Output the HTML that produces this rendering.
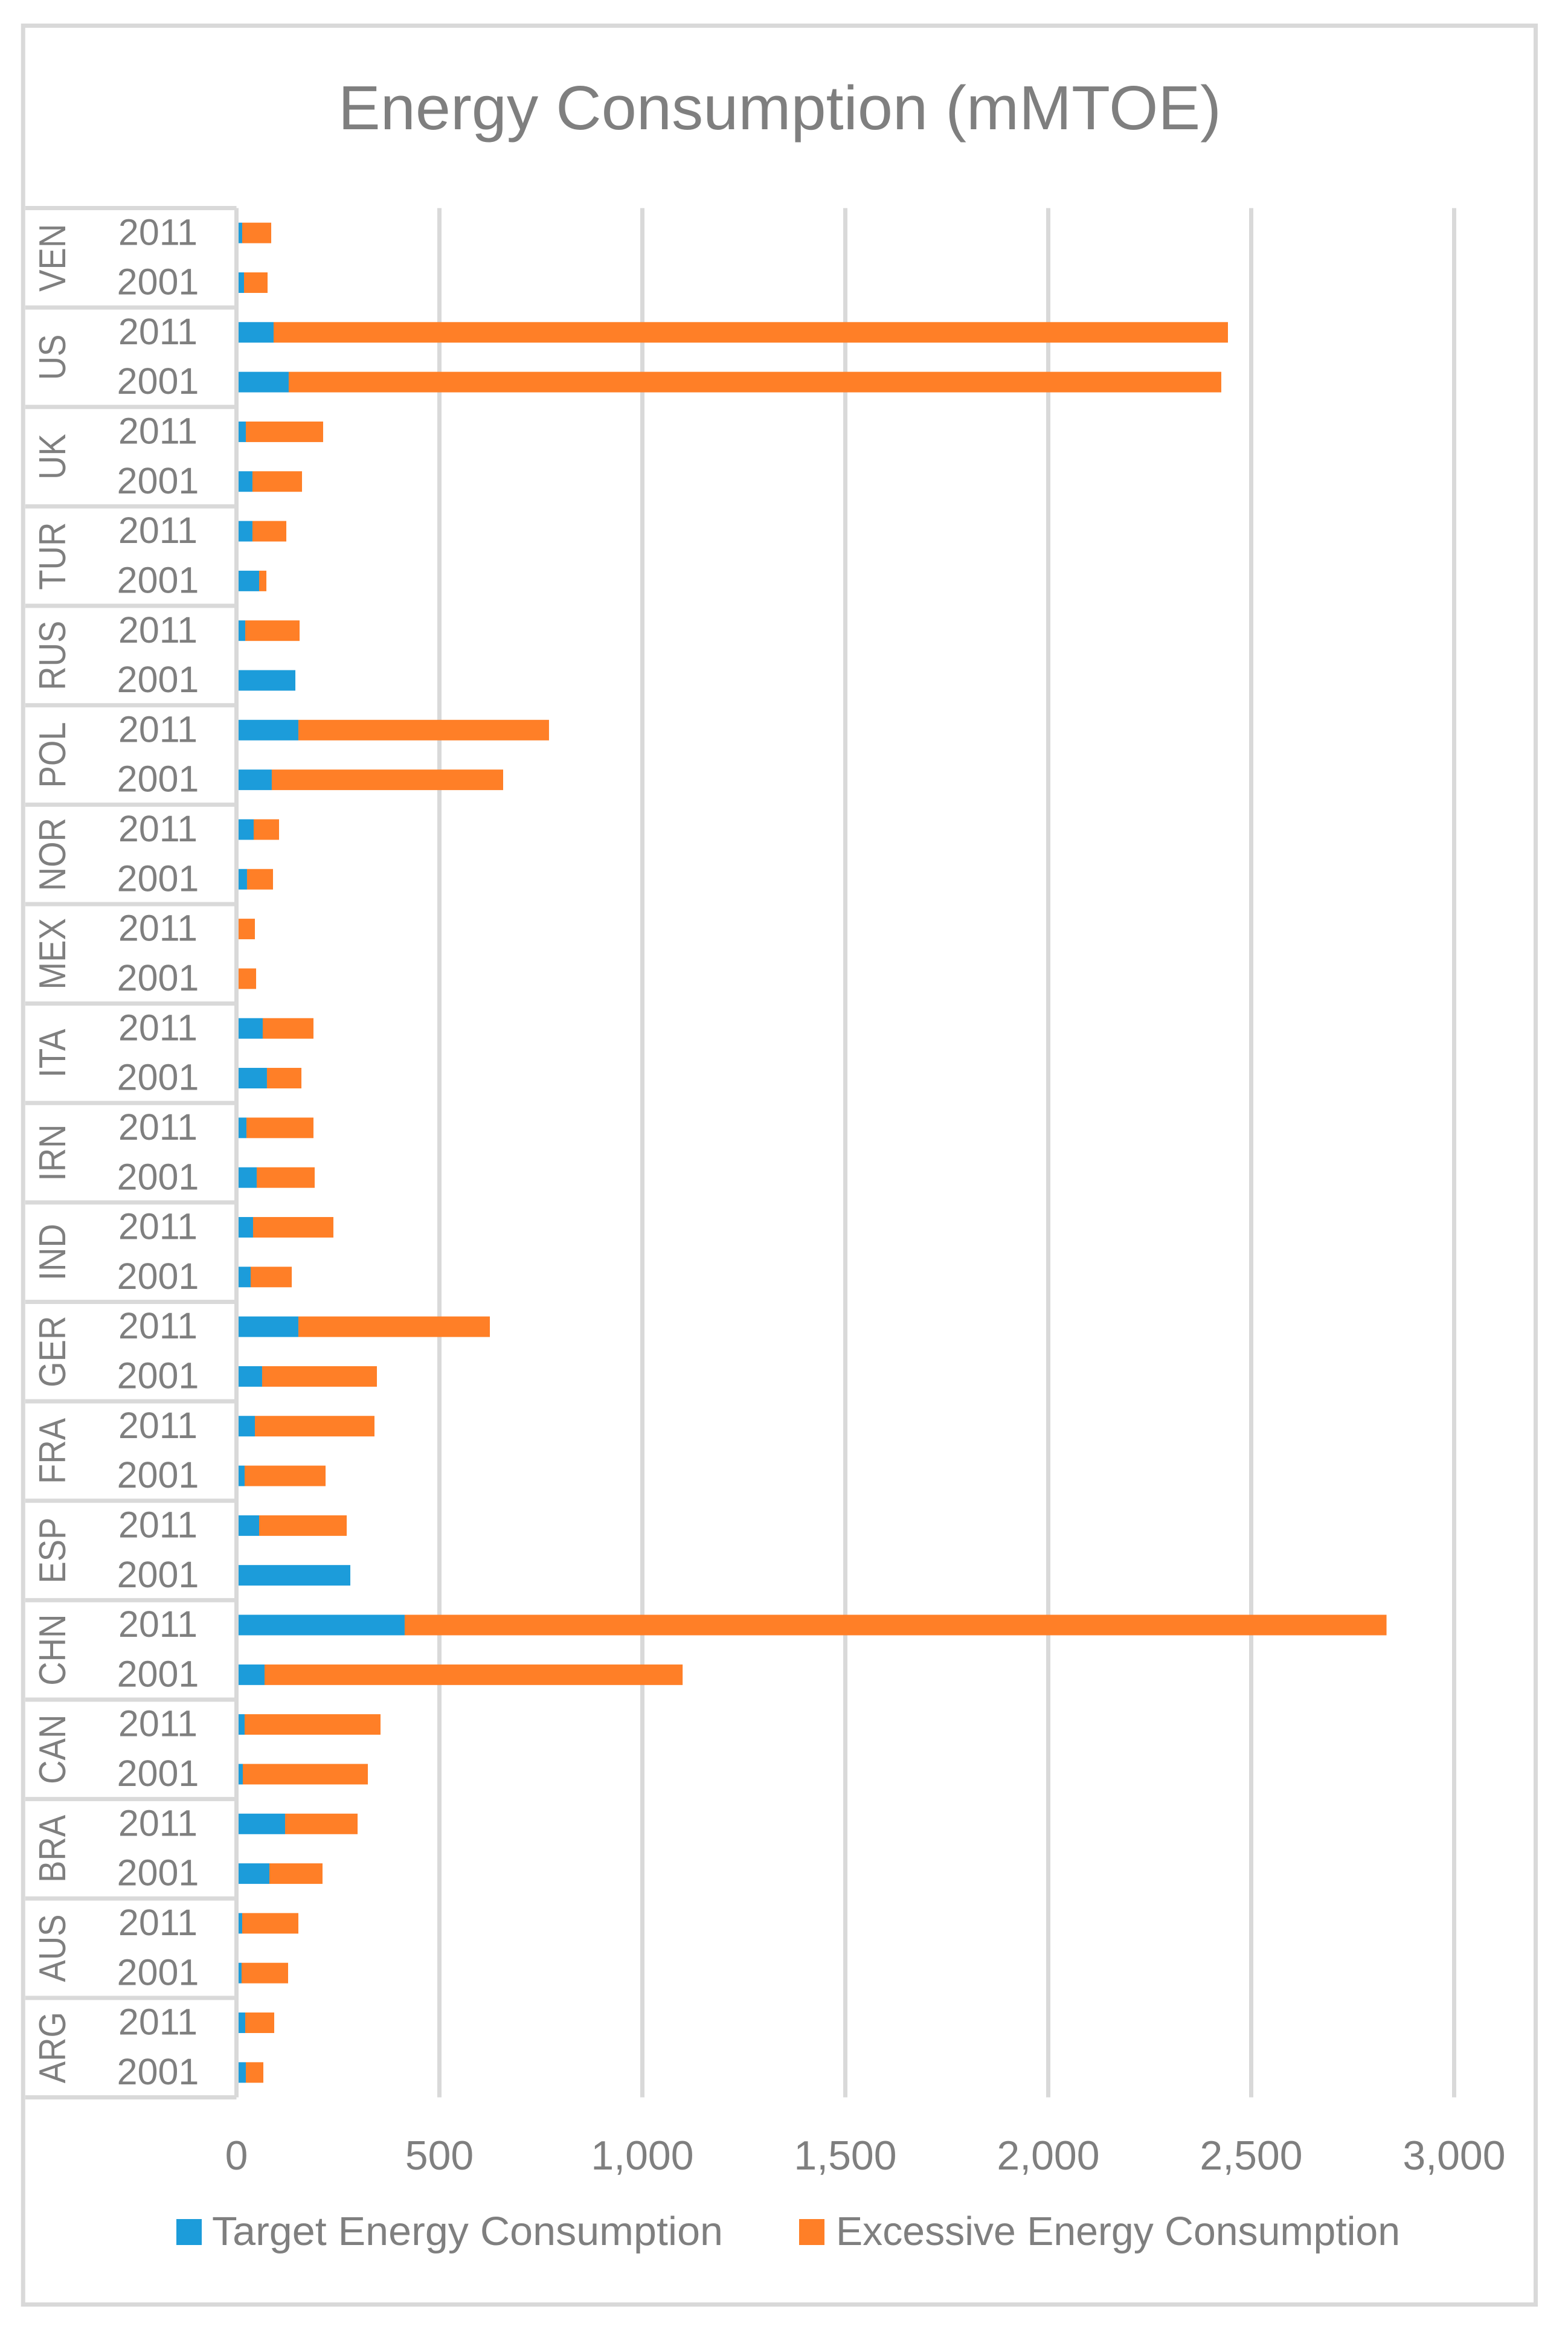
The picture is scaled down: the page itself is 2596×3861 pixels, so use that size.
<!DOCTYPE html>
<html lang="en">
<head>
<meta charset="utf-8">
<title>Energy Consumption (mMTOE)</title>
<style>
html,body{margin:0;padding:0;background:#fff;}
body{width:2596px;height:3861px;overflow:hidden;}
svg{display:block;}
text{font-family:"Liberation Sans",sans-serif;fill:#7f7f7f;}
</style>
</head>
<body>
<svg id="chart" xmlns="http://www.w3.org/2000/svg" width="2596" height="3861" viewBox="0 0 2596 3861">
  <rect x="38.25" y="42.5" width="2504.25" height="3773" fill="#fff" stroke="#d9d9d9" stroke-width="7"/>
  <text x="560" y="214" font-size="103" textLength="1462" lengthAdjust="spacingAndGlyphs">Energy Consumption (mMTOE)</text>
  <g id="grid"></g>
  <g id="bars"></g>
  <g id="axis"></g>
  <g id="xticks"></g>
  <g>
    <g>
      <rect x="292" y="3674" width="42" height="43" fill="#1c9cda"/>
      <text x="351" y="3717" font-size="67" textLength="846" lengthAdjust="spacingAndGlyphs">Target Energy Consumption</text>
    </g>
    <g>
      <rect x="1323" y="3674" width="42" height="43" fill="#ff7f27"/>
      <text x="1384" y="3717" font-size="67" textLength="934" lengthAdjust="spacingAndGlyphs">Excessive Energy Consumption</text>
    </g>
  </g>
</svg>
<script>
// Chart data, top to bottom as drawn
const countries = ["VEN","US","UK","TUR","RUS","POL","NOR","MEX","ITA","IRN","IND","GER","FRA","ESP","CHN","CAN","BRA","AUS","ARG"];
const years = ["2011","2001"];
const target2011 = [14.1,91.5,23.1,39.4,21.6,152.5,42.4,0,64.7,24.6,40.9,152.5,45.4,55.8,414.4,20.1,119.8,14.1,21.6];
const excess2011 = [71.5,2351.2,190.4,83.4,133.9,617.5,62.5,45.4,125,165.1,197.9,471.8,294.6,215.8,2419,334.8,178.6,138.4,71.4];
const target2001 = [18.6,128.7,39.4,55.8,145.1,87,26,0,75.1,49.9,35,63.2,20.1,280.5,69.2,15.6,81.1,12.6,23.1];
const excess2001 = [58,2297.6,122.1,17.9,0,570,64,48.4,84.9,142.8,101.2,282.8,199.4,0,1030,308.1,130.9,114.6,43.1];
const xTickValues = [0,500,1000,1500,2000,2500,3000];
const xTickLabels = ["0","500","1,000","1,500","2,000","2,500","3,000"];

const NS = "http://www.w3.org/2000/svg";
const plotTop = 344.5, plotBottom = 3472.5, zeroX = 391.5, pxPerUnit = 0.672;
const groupH = (plotBottom - plotTop) / countries.length;
const rowH = groupH / years.length;
const barH = 34;
const COUNTRY_SQUEEZE = 0.88;

function xScale(v) { return zeroX + v * pxPerUnit; }
function groupTop(i) { return plotTop + i * groupH; }
function rowCenter(i, j) { return groupTop(i) + (j + 0.5) * rowH; }

function rect(parent, x, y, w, h, fill) {
  const el = document.createElementNS(NS, "rect");
  el.setAttribute("x", x);
  el.setAttribute("y", y);
  el.setAttribute("width", w);
  el.setAttribute("height", h);
  el.setAttribute("fill", fill);
  parent.appendChild(el);
  return el;
}
function label(parent, str, x, y, size, anchor) {
  const el = document.createElementNS(NS, "text");
  el.setAttribute("x", x);
  el.setAttribute("y", y);
  el.setAttribute("font-size", size);
  el.setAttribute("text-anchor", anchor);
  el.textContent = str;
  parent.appendChild(el);
  return el;
}

const gridG = document.getElementById("grid");
const barsG = document.getElementById("bars");
const axisG = document.getElementById("axis");
const tickG = document.getElementById("xticks");

// Gridlines and value-axis labels
xTickValues.forEach(function (v, k) {
  if (v > 0) {
    const line = rect(gridG, xScale(v) - 3.5, plotTop, 7, plotBottom - plotTop, "#d9d9d9");
    
    
  }
  const t = label(tickG, xTickLabels[k], xScale(v), 3592, 68, "middle");
  
  
});

// Stacked bars
const seriesTarget = [target2011, target2001];
const seriesExcess = [excess2011, excess2001];
countries.forEach(function (c, i) {
  years.forEach(function (yr, j) {
    const tv = seriesTarget[j][i];
    const ev = seriesExcess[j][i];
    const cy = rowCenter(i, j);
    const a = rect(barsG, xScale(0), cy - barH / 2, tv * pxPerUnit, barH, "#1c9cda");
    
    
    const b = rect(barsG, xScale(tv), cy - barH / 2, ev * pxPerUnit, barH, "#ff7f27");
    
    
  });
});

// Category axis: vertical spine, group separators, labels
const spine = rect(axisG, zeroX - 3.5, plotTop, 7, plotBottom - plotTop, "#d9d9d9");


for (let i = 0; i <= countries.length; i++) {
  const sep = rect(axisG, 42, groupTop(i) - 3.5, zeroX - 42, 7, "#d9d9d9");
  
  
}
countries.forEach(function (c, i) {
  const cy = groupTop(i) + groupH / 2;
  const t = label(axisG, c, 0, 0, 62, "middle");
  t.setAttribute("transform", "translate(108 " + cy + ") rotate(-90)");
  t.setAttribute("textLength", t.getComputedTextLength() * COUNTRY_SQUEEZE);
  t.setAttribute("lengthAdjust", "spacingAndGlyphs");
  
  
  years.forEach(function (yr, j) {
    const y = label(axisG, yr, 261.5, rowCenter(i, j) + 19.6, 61, "middle");
    
    
  });
});
</script>
</body>
</html>
